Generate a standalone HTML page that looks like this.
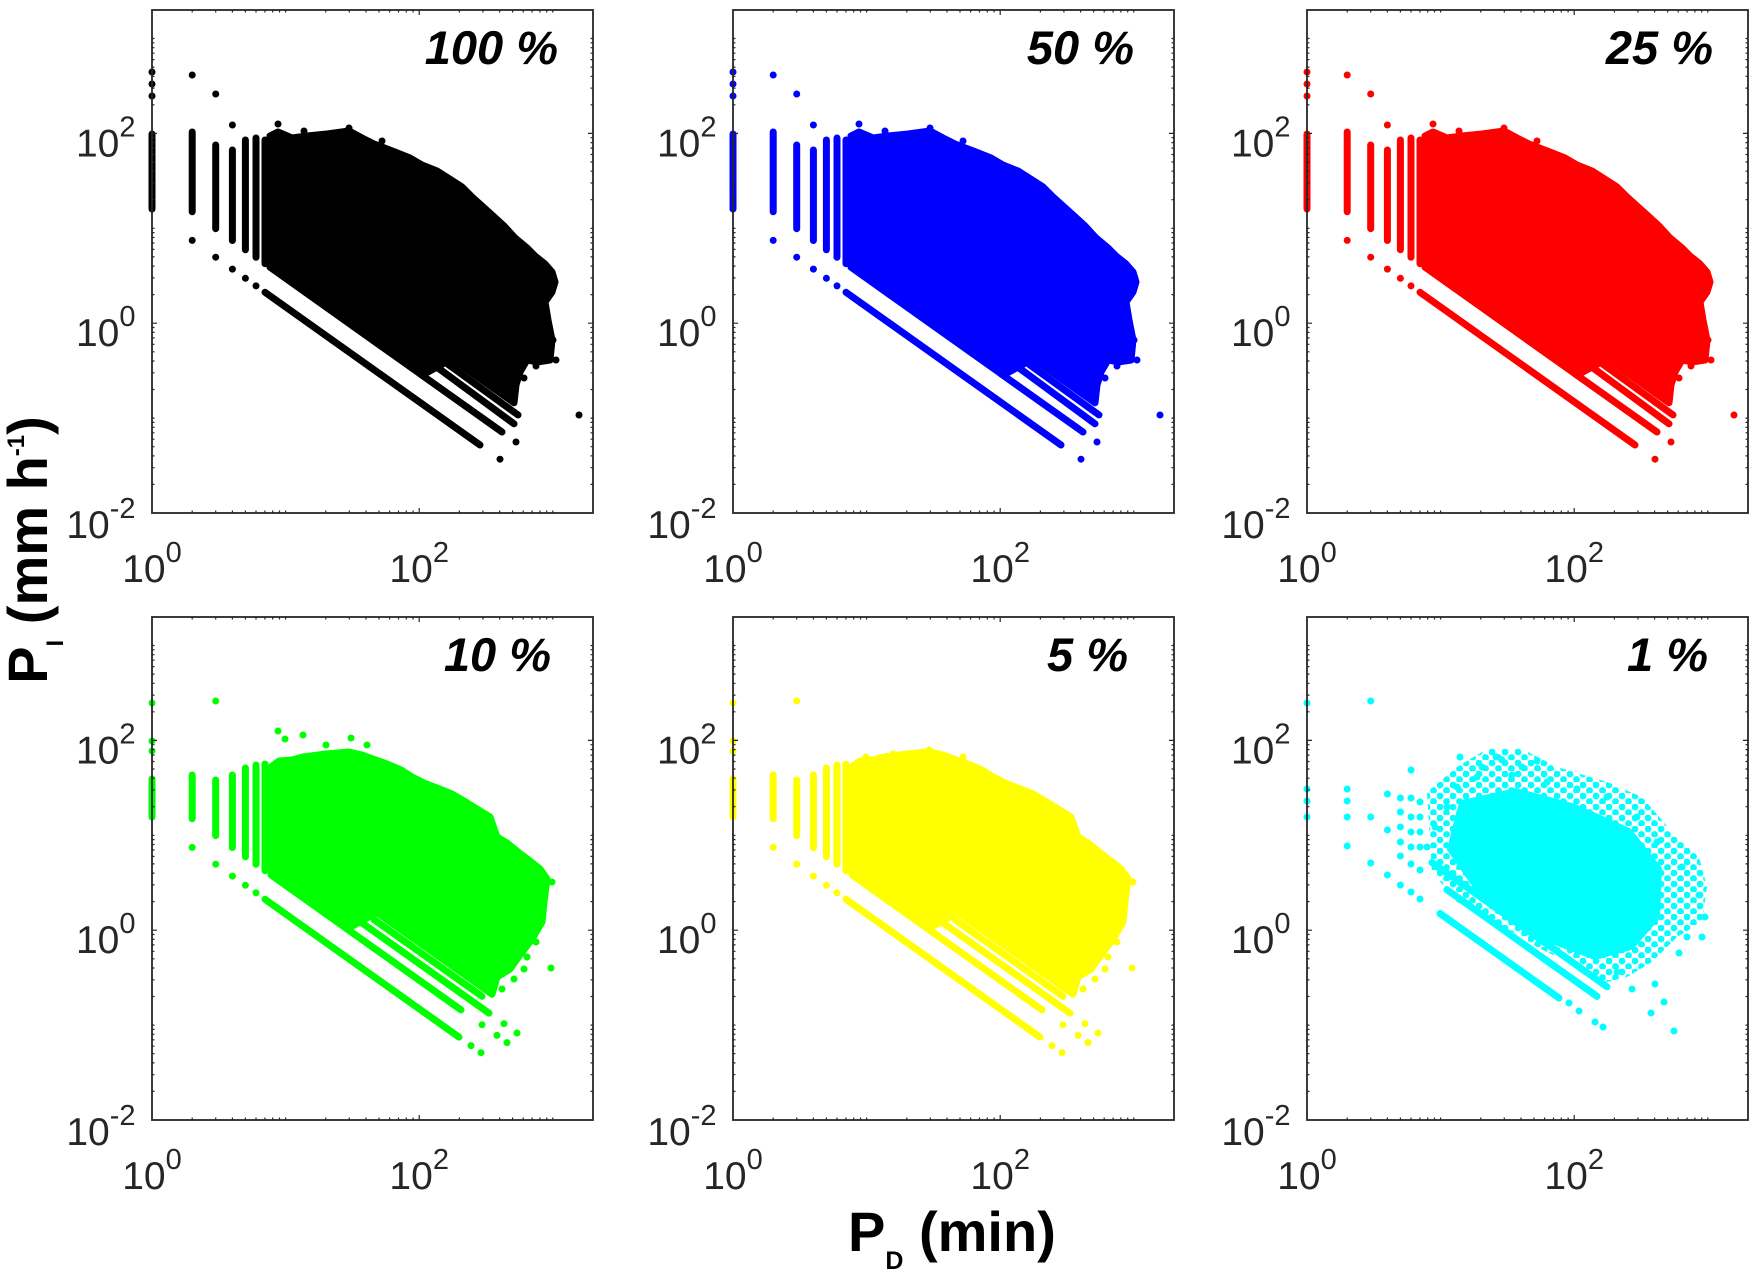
<!DOCTYPE html>
<html><head><meta charset="utf-8"><style>
html,body{margin:0;padding:0;background:#fff;}
svg{display:block;}
text{font-family:"Liberation Sans",Arial,sans-serif;}
</style></head><body>
<svg width="1760" height="1276" viewBox="0 0 1760 1276" xmlns="http://www.w3.org/2000/svg">
<defs>
<pattern id="dp" width="13" height="11" patternUnits="userSpaceOnUse">
<circle cx="3" cy="3" r="3.4" fill="#00ffff"/><circle cx="9.5" cy="8.5" r="3.4" fill="#00ffff"/>
</pattern>
<g id="ax">
<rect x="0" y="0" width="441" height="503" fill="none" stroke="#262626" stroke-width="1.8"/>
<path fill="none" stroke="#262626" stroke-width="1.2" d="M40.2 503v-2.5M63.7 503v-2.5M80.4 503v-2.5M93.4 503v-2.5M104 503v-2.5M112.9 503v-2.5M120.7 503v-2.5M127.5 503v-2.5M133.6 503v-2.5M173.8 503v-2.5M197.3 503v-2.5M214 503v-2.5M227 503v-2.5M237.6 503v-2.5M246.5 503v-2.5M254.3 503v-2.5M261.1 503v-2.5M307.4 503v-2.5M330.9 503v-2.5M347.6 503v-2.5M360.6 503v-2.5M371.2 503v-2.5M380.1 503v-2.5M387.9 503v-2.5M394.7 503v-2.5M400.8 503v-2.5M267.2 503v-5
M40.2 0v2.5M63.7 0v2.5M80.4 0v2.5M93.4 0v2.5M104 0v2.5M112.9 0v2.5M120.7 0v2.5M127.5 0v2.5M133.6 0v2.5M173.8 0v2.5M197.3 0v2.5M214 0v2.5M227 0v2.5M237.6 0v2.5M246.5 0v2.5M254.3 0v2.5M261.1 0v2.5M307.4 0v2.5M330.9 0v2.5M347.6 0v2.5M360.6 0v2.5M371.2 0v2.5M380.1 0v2.5M387.9 0v2.5M394.7 0v2.5M400.8 0v2.5M267.2 0v5
M0 474.4h2.5M0 457.7h2.5M0 445.9h2.5M0 436.7h2.5M0 429.2h2.5M0 422.8h2.5M0 417.3h2.5M0 412.4h2.5M0 408.1h2.5M0 379.5h2.5M0 362.8h2.5M0 351h2.5M0 341.8h2.5M0 334.3h2.5M0 327.9h2.5M0 322.4h2.5M0 317.5h2.5M0 284.6h2.5M0 267.9h2.5M0 256.1h2.5M0 246.9h2.5M0 239.4h2.5M0 233h2.5M0 227.5h2.5M0 222.6h2.5M0 218.3h2.5M0 189.7h2.5M0 173h2.5M0 161.2h2.5M0 152h2.5M0 144.5h2.5M0 138.1h2.5M0 132.6h2.5M0 127.7h2.5M0 94.8h2.5M0 78.1h2.5M0 66.3h2.5M0 57.1h2.5M0 49.6h2.5M0 43.2h2.5M0 37.7h2.5M0 32.8h2.5M0 28.5h2.5M0 313.2h5M0 123.4h5
M441 474.4h-2.5M441 457.7h-2.5M441 445.9h-2.5M441 436.7h-2.5M441 429.2h-2.5M441 422.8h-2.5M441 417.3h-2.5M441 412.4h-2.5M441 408.1h-2.5M441 379.5h-2.5M441 362.8h-2.5M441 351h-2.5M441 341.8h-2.5M441 334.3h-2.5M441 327.9h-2.5M441 322.4h-2.5M441 317.5h-2.5M441 284.6h-2.5M441 267.9h-2.5M441 256.1h-2.5M441 246.9h-2.5M441 239.4h-2.5M441 233h-2.5M441 227.5h-2.5M441 222.6h-2.5M441 218.3h-2.5M441 189.7h-2.5M441 173h-2.5M441 161.2h-2.5M441 152h-2.5M441 144.5h-2.5M441 138.1h-2.5M441 132.6h-2.5M441 127.7h-2.5M441 94.8h-2.5M441 78.1h-2.5M441 66.3h-2.5M441 57.1h-2.5M441 49.6h-2.5M441 43.2h-2.5M441 37.7h-2.5M441 32.8h-2.5M441 28.5h-2.5M441 313.2h-5M441 123.4h-5"/>
</g>
<g id="tA" fill="currentColor" stroke="currentColor">
<polygon stroke-width="7" stroke-linejoin="round" points="118,126 126,122 140,128 155,126 175,124 197,121 210,128 222,134 243,142 258,148 270,155 285,161 296,168 310,177 320,187 330,196 340,205 352,216 363,228 375,238 383,246 393,254 400,262 403,272 400,282 393,292 396,310 400,330 398,350 385,352 375,350 368,362 364,375 362,392.8 300,348.9 270,365.2 118,257.2"/>
<path fill="none" stroke-width="7" stroke-linecap="round" d="M113 282.3L328 435M268 363.8L350 422M282 355L362 413.8M296 354.3L366 404.9M0 124V199M40.2 122V201.8M63.7 135V218.7M80.4 140V230.5M93.4 130V239.8M104 128V247.3M113 130V253.7
M0 62h0.01M0 74h0.01M0 86h0.01M40.2 65h0.01M40.2 230.4h0.01M63.7 84h0.01M63.7 247.2h0.01M80.4 115h0.01M80.4 259.1h0.01M93.4 268.3h0.01M104 275.9h0.01M348 449.2h0.01M364 432h0.01M427 405h0.01M126 114h0.01M152 121h0.01M197 118h0.01M230 131h0.01M401 330h0.01M392 348h0.01M384 356h0.01M372 368h0.01M404 350h0.01"/>
</g>
<g id="tB" fill="currentColor" stroke="currentColor">
<polygon stroke-width="7" stroke-linejoin="round" points="119,150 127,144 140,143 151,140 174,137 197,135 210,138 221,142 235,147 249,153 260,160 272,166 285,171 300,177 312,184 320,189 338,200 345,220 355,226 366,235 378,244 388,252 395,262 392,285 390,305 380,322 368,338 358,352 345,360 340,377.2 225,295.6 195,311.9 119,257.9"/>
<path fill="none" stroke-width="7" stroke-linecap="round" d="M113 282.3L307 420.1M193 310.5L309 392.9M208 304.5L337 396.1M222 302.6L330 379.3M0 162V200M40.2 158V201.8M63.7 163V218.7M80.4 158V230.5M93.4 151V239.8M104 148V247.3M113 147V253.7
M319 428.6h0.01M329 435.7h0.01M330 407.8h0.01M345 418.4h0.01M355 425.6h0.01M352 406.7h0.01M365 416h0.01M399 351h0.01M400 265h0.01M384 325h0.01M375 340h0.01M362 362h0.01M350 372h0.01M372 352h0.01M0 86h0.01M0 124h0.01M0 134h0.01M40.2 230.4h0.01M63.7 84h0.01M63.7 247.2h0.01M80.4 259.1h0.01M93.4 268.3h0.01M104 275.9h0.01"/>
</g>
</defs>

<!-- Panel 1 -->
<g transform="translate(152,10)">
<use href="#tA" color="#000000"/>
<use href="#ax"/>
</g>
<!-- Panel 2 -->
<g transform="translate(733,10)">
<use href="#tA" color="#0000ff"/>
<use href="#ax"/>
</g>
<!-- Panel 3 -->
<g transform="translate(1307,10)">
<use href="#tA" color="#ff0000"/>
<use href="#ax"/>
</g>
<!-- Panel 4 -->
<g transform="translate(152,617)">
<use href="#tB" color="#00ff00"/>
<path fill="none" stroke="#00ff00" stroke-width="7" stroke-linecap="round" d="M126 114h0.01M151 118h0.01M199 121h0.01M174 128h0.01M133 122h0.01M215 128h0.01"/>
<use href="#ax"/>
</g>
<!-- Panel 5 -->
<g transform="translate(733,617)">
<use href="#tB" color="#ffff00"/>
<path fill="none" stroke="#ffff00" stroke-width="7" stroke-linecap="round" d="M196 133h0.01M133 140h0.01M160 137h0.01M230 140h0.01"/>
<use href="#ax"/>
</g>
<!-- Panel 6 -->
<g transform="translate(1307,617)">
<polygon fill="url(#dp)" points="120,175 150,150 180,132 215,132 250,150 300,165 335,180 365,215 392,240 400,270 395,305 370,320 345,345 320,360 300,365 270,350 230,330 190,305 150,285 125,255"/>
<polygon fill="#00ffff" stroke="#00ffff" stroke-width="6" stroke-linejoin="round" points="155,186 209,174 268,190 322,214 352,252 350,300 324,330 288,340 248,325 205,300 168,268 143,232"/>
<path fill="none" stroke="#00ffff" stroke-width="7" stroke-linecap="round" d="M133 296.5L252 381M140 272.8L290 379.4M125 245.5L300 369.8
M0 86h0.01M0 172h0.01M0 184h0.01M0 200h0.01M40.2 172h0.01M40.2 184h0.01M40.2 200h0.01M40.2 229h0.01M63.7 84h0.01M63.7 200h0.01M63.7 246h0.01M80.4 177h0.01M80.4 213h0.01M80.4 258h0.01M93.4 181h0.01M93.4 195h0.01M93.4 210h0.01M93.4 225h0.01M93.4 239h0.01M93.4 268h0.01M104 153h0.01M104 181h0.01M104 200h0.01M104 215h0.01M104 230h0.01M104 247h0.01M104 275h0.01M113 185h0.01M113 200h0.01M113 215h0.01M113 230h0.01M113 253h0.01M113 282h0.01
M262 386h0.01M272 394h0.01M288 405h0.01M296 410h0.01M344 396h0.01M367 414h0.01M348 367h0.01M372 336h0.01M380 320h0.01M395 320h0.01M398 300h0.01M392 278h0.01M375 250h0.01M350 225h0.01M330 200h0.01M300 180h0.01M270 172h0.01M240 165h0.01M215 150h0.01M189 140h0.01M170 160h0.01M150 170h0.01M140 190h0.01M128 210h0.01M120 230h0.01M153 140h0.01M195 143h0.01M230 144h0.01M175 150h0.01M205 158h0.01M310 355h0.01M325 372h0.01M357 385h0.01"/>
<use href="#ax"/>
</g>

<!-- Tick labels -->
<g fill="#262626" font-size="39">
<text x="135.5" y="156.4" text-anchor="end">10<tspan dy="-20" font-size="29">2</tspan></text>
<text x="135.5" y="346.2" text-anchor="end">10<tspan dy="-20" font-size="29">0</tspan></text>
<text x="135.5" y="538" text-anchor="end">10<tspan dy="-20" font-size="29">-2</tspan></text>
<text x="716.5" y="156.4" text-anchor="end">10<tspan dy="-20" font-size="29">2</tspan></text>
<text x="716.5" y="346.2" text-anchor="end">10<tspan dy="-20" font-size="29">0</tspan></text>
<text x="716.5" y="538" text-anchor="end">10<tspan dy="-20" font-size="29">-2</tspan></text>
<text x="1290.5" y="156.4" text-anchor="end">10<tspan dy="-20" font-size="29">2</tspan></text>
<text x="1290.5" y="346.2" text-anchor="end">10<tspan dy="-20" font-size="29">0</tspan></text>
<text x="1290.5" y="538" text-anchor="end">10<tspan dy="-20" font-size="29">-2</tspan></text>
<text x="135.5" y="763.4" text-anchor="end">10<tspan dy="-20" font-size="29">2</tspan></text>
<text x="135.5" y="953.2" text-anchor="end">10<tspan dy="-20" font-size="29">0</tspan></text>
<text x="135.5" y="1145" text-anchor="end">10<tspan dy="-20" font-size="29">-2</tspan></text>
<text x="716.5" y="763.4" text-anchor="end">10<tspan dy="-20" font-size="29">2</tspan></text>
<text x="716.5" y="953.2" text-anchor="end">10<tspan dy="-20" font-size="29">0</tspan></text>
<text x="716.5" y="1145" text-anchor="end">10<tspan dy="-20" font-size="29">-2</tspan></text>
<text x="1290.5" y="763.4" text-anchor="end">10<tspan dy="-20" font-size="29">2</tspan></text>
<text x="1290.5" y="953.2" text-anchor="end">10<tspan dy="-20" font-size="29">0</tspan></text>
<text x="1290.5" y="1145" text-anchor="end">10<tspan dy="-20" font-size="29">-2</tspan></text>
<text x="152" y="582" text-anchor="middle">10<tspan dy="-20" font-size="29">0</tspan></text>
<text x="419.2" y="582" text-anchor="middle">10<tspan dy="-20" font-size="29">2</tspan></text>
<text x="733" y="582" text-anchor="middle">10<tspan dy="-20" font-size="29">0</tspan></text>
<text x="1000.2" y="582" text-anchor="middle">10<tspan dy="-20" font-size="29">2</tspan></text>
<text x="1307" y="582" text-anchor="middle">10<tspan dy="-20" font-size="29">0</tspan></text>
<text x="1574.2" y="582" text-anchor="middle">10<tspan dy="-20" font-size="29">2</tspan></text>
<text x="152" y="1189" text-anchor="middle">10<tspan dy="-20" font-size="29">0</tspan></text>
<text x="419.2" y="1189" text-anchor="middle">10<tspan dy="-20" font-size="29">2</tspan></text>
<text x="733" y="1189" text-anchor="middle">10<tspan dy="-20" font-size="29">0</tspan></text>
<text x="1000.2" y="1189" text-anchor="middle">10<tspan dy="-20" font-size="29">2</tspan></text>
<text x="1307" y="1189" text-anchor="middle">10<tspan dy="-20" font-size="29">0</tspan></text>
<text x="1574.2" y="1189" text-anchor="middle">10<tspan dy="-20" font-size="29">2</tspan></text>
</g>

<!-- Panel percentage labels -->
<g fill="#000" font-size="47" font-weight="bold" font-style="italic" text-anchor="end">
<text x="558" y="64">100 %</text>
<text x="1134" y="64">50 %</text>
<text x="1713" y="64">25 %</text>
<text x="551" y="671">10 %</text>
<text x="1128" y="671">5 %</text>
<text x="1708" y="671">1 %</text>
</g>

<!-- Axis titles -->
<text x="848" y="1251" font-size="56" font-weight="bold" fill="#000">P<tspan font-size="25" dy="18">D</tspan><tspan dy="-18"> (min)</tspan></text>
<text transform="translate(47,550) rotate(-90)" text-anchor="middle" font-size="56" font-weight="bold" fill="#000">P<tspan font-size="24" dy="16">I</tspan><tspan dy="-16"> (mm h</tspan><tspan font-size="24" dy="-23">-1</tspan><tspan dy="23">)</tspan></text>
</svg>
</body></html>
